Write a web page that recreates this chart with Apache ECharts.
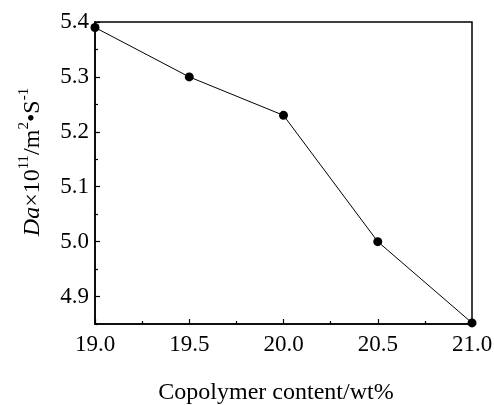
<!DOCTYPE html>
<html><head><meta charset="utf-8">
<script src="https://cdn.jsdelivr.net/npm/echarts@6/dist/echarts.min.js"></script>
<style>html,body{margin:0;padding:0;background:#fff}#c{width:494px;height:405px}</style>
</head><body><div id="c"></div>
<script>
const xValues = [19.0, 19.5, 20.0, 20.5, 21.0];
const yValues = [5.39, 5.30, 5.23, 5.00, 4.852];
const yMajorTicks = [4.9, 5.0, 5.1, 5.2, 5.3, 5.4];
const yMinorTicks = [4.85, 4.95, 5.05, 5.15, 5.25, 5.35];
const xTickLabels = ['19.0', '19.5', '20.0', '20.5', '21.0'];

const font = 'Liberation Serif, Times New Roman, serif';
const chart = echarts.init(document.getElementById('c'));
chart.setOption({
  animation: false,
  backgroundColor: '#fff',
  grid: { left: 95, right: 22, top: 22, bottom: 81, containLabel: false, outerBoundsMode: 'none',
    show: true, borderColor: '#000', borderWidth: 1.5, backgroundColor: 'transparent' },
  xAxis: {
    type: 'value', min: 19, max: 21, interval: 0.5,
    axisLine: { lineStyle: { color: '#000', width: 1.5 } },
    axisTick: { inside: true, length: 5, lineStyle: { color: '#000', width: 1.2 } },
    minorTick: { show: true, splitNumber: 2, length: 3, lineStyle: { color: '#000', width: 1.2 } },
    splitLine: { show: false },
    axisLabel: { color: '#000', fontFamily: font, fontSize: 23, margin: 9,
      formatter: v => xTickLabels[xValues.indexOf(Math.round(v * 10) / 10)] || v.toFixed(1) },
    name: 'Copolymer content/wt%', nameLocation: 'middle', nameGap: 57,
    nameTextStyle: { color: '#000', fontFamily: font, fontSize: 24, padding: [0, 15, 0, 0] }
  },
  yAxis: [{
    type: 'value', min: 4.85, max: 5.4,
    axisLine: { show: true, lineStyle: { color: '#000', width: 1.5 } },
    axisTick: { inside: true, length: 5, customValues: yMajorTicks, lineStyle: { color: '#000', width: 1.2 } },
    splitLine: { show: false },
    axisLabel: { color: '#000', fontFamily: font, fontSize: 23, margin: 6, customValues: yMajorTicks,
      formatter: v => v.toFixed(1) },
    name: '{i|Da}{n|×10}{s|11}{n|/m}{s|2}{n|•S}{s|-1}',
    nameLocation: 'middle', nameRotate: 90, nameGap: 50,
    nameTextStyle: {
      color: '#000', fontFamily: font, fontSize: 24, padding: [0, 0, 0, 22],
      rich: {
        i: { fontFamily: font, fontSize: 24, fontStyle: 'italic', color: '#000', verticalAlign: 'bottom', lineHeight: 28 },
        n: { fontFamily: font, fontSize: 24, color: '#000', verticalAlign: 'bottom', lineHeight: 28 },
        s: { fontFamily: font, fontSize: 15, color: '#000', verticalAlign: 'top', lineHeight: 28 }
      }
    }
  }, {
    type: 'value', min: 4.85, max: 5.4, position: 'left',
    axisLine: { show: false },
    axisTick: { show: true, inside: true, length: 3, customValues: yMinorTicks, lineStyle: { color: '#000', width: 1.2 } },
    axisLabel: { show: false }, splitLine: { show: false }
  }],
  series: [{
    type: 'line',
    data: xValues.map((x, i) => [x, yValues[i]]),
    symbol: 'circle', symbolSize: 9,
    itemStyle: { color: '#000' },
    lineStyle: { color: '#000', width: 1 },
    clip: true
  }]
});
</script></body></html>
